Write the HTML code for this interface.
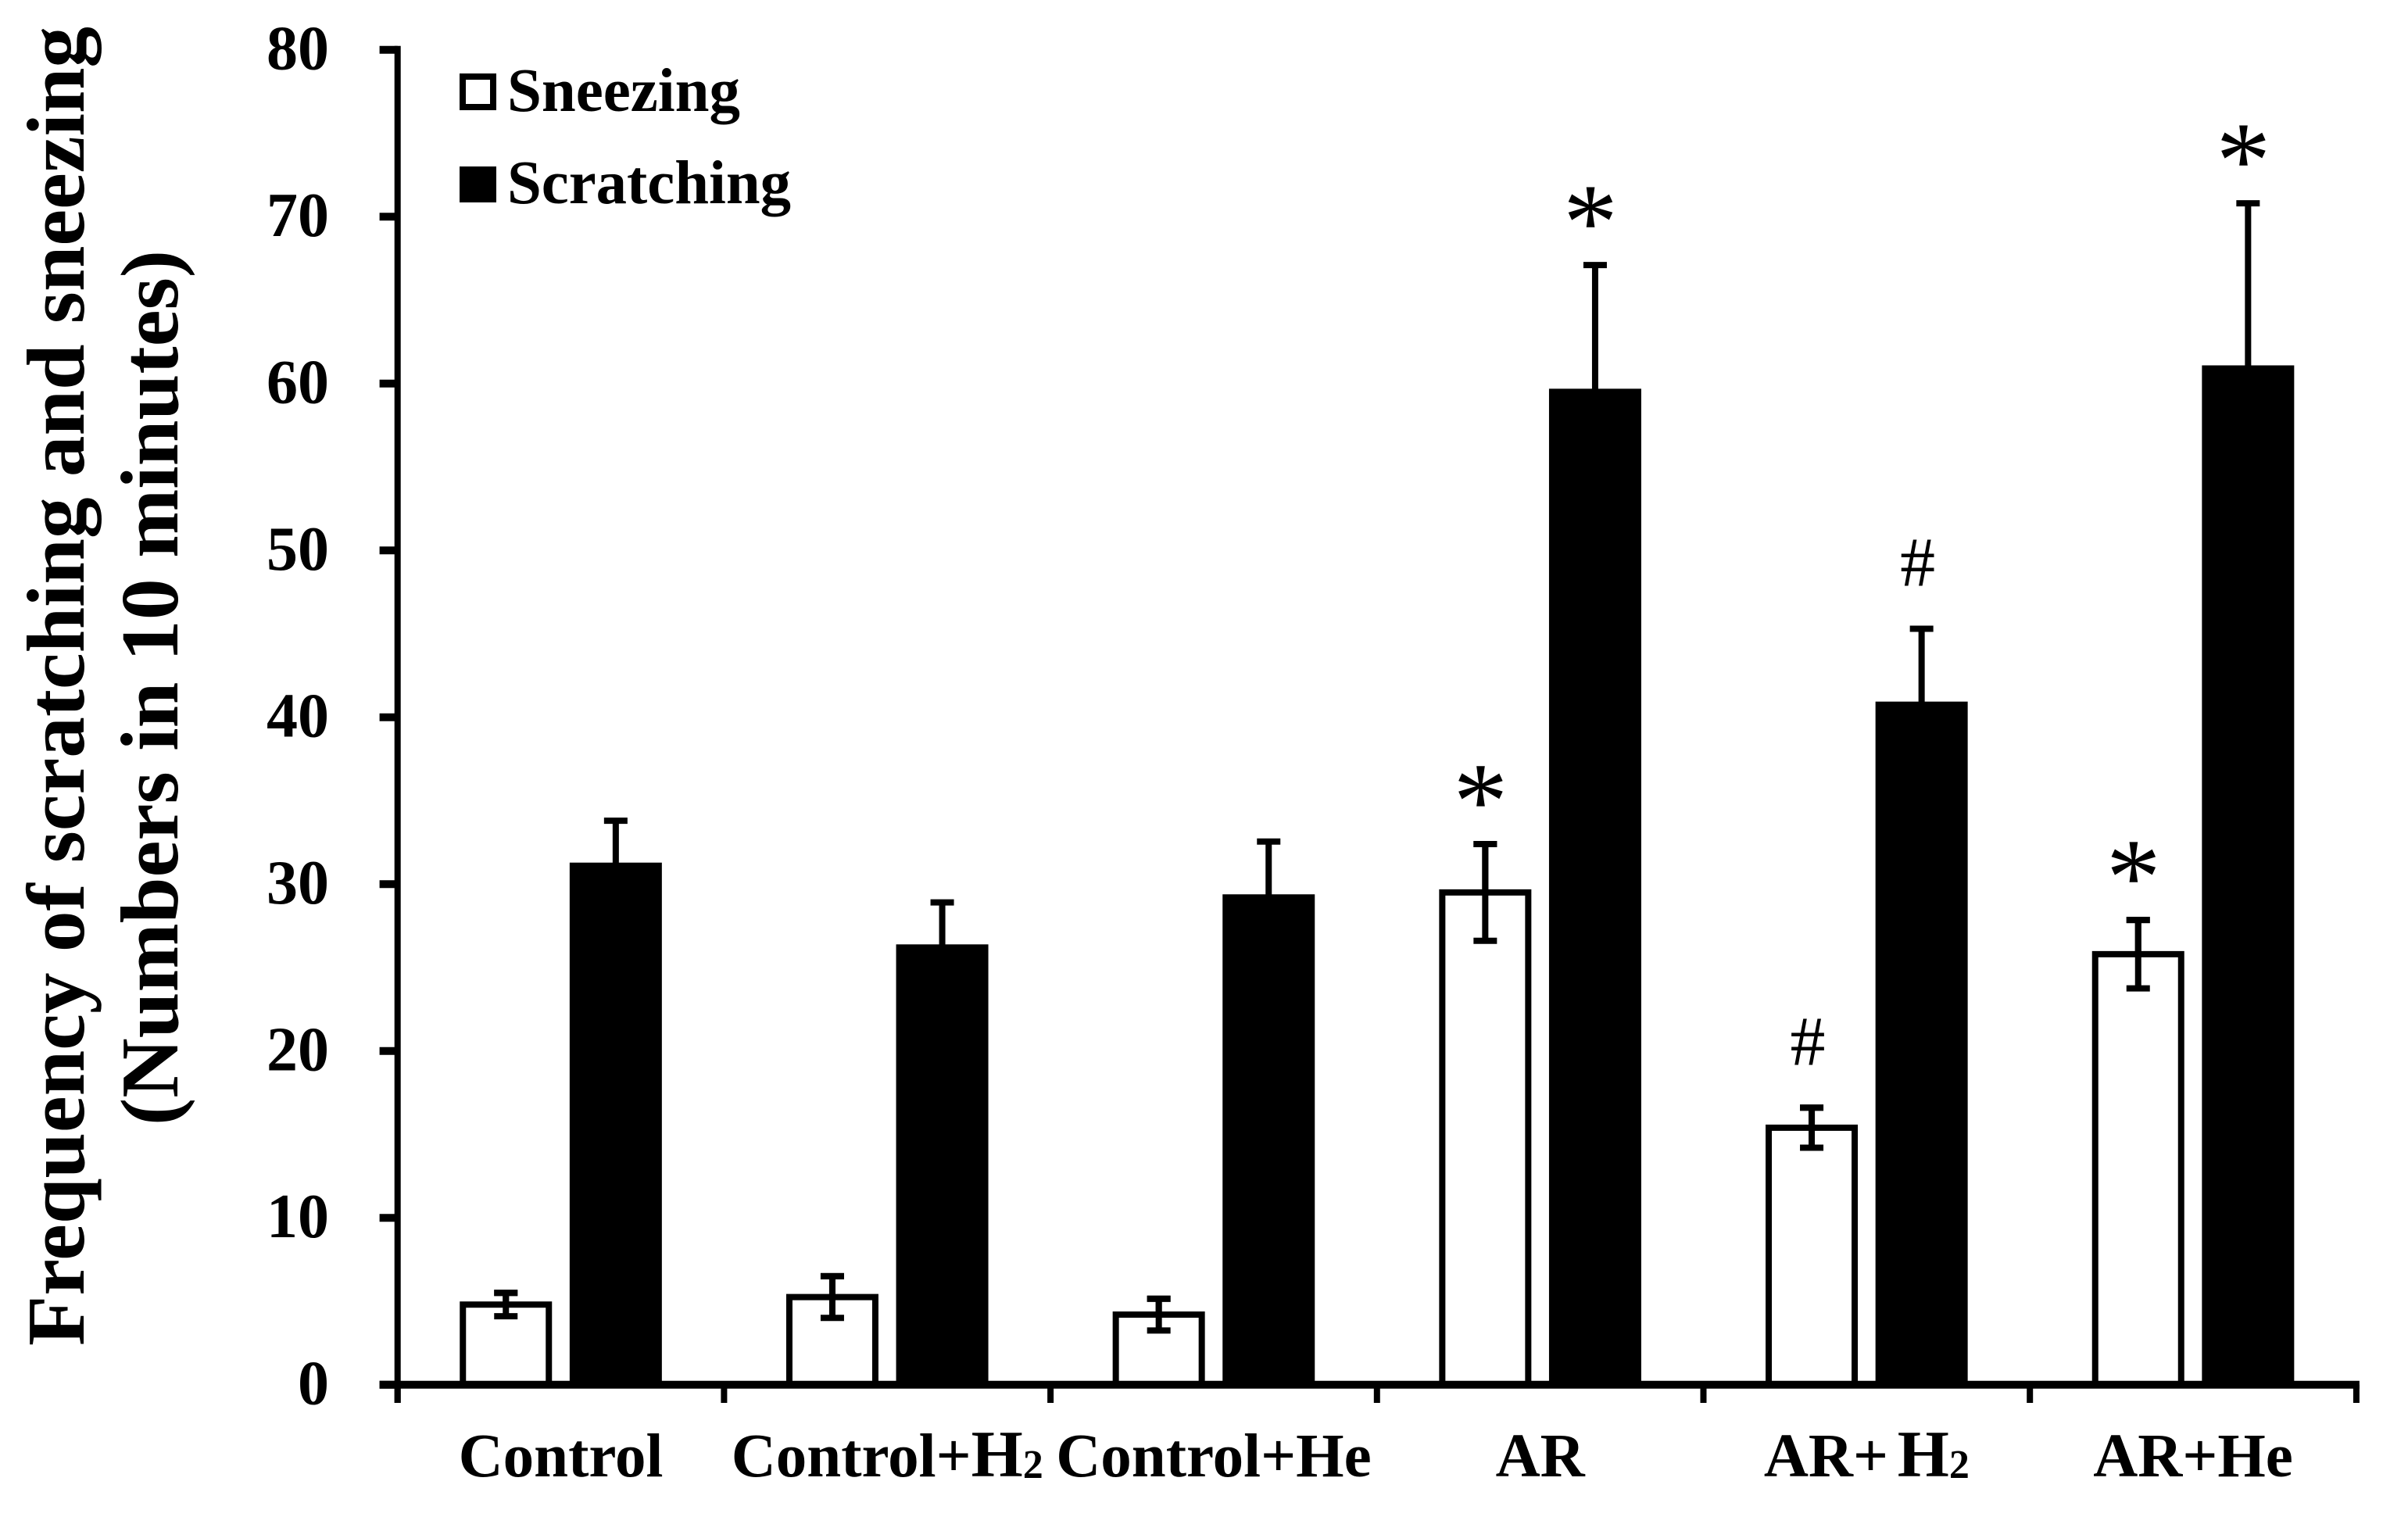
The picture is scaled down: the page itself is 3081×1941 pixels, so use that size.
<!DOCTYPE html>
<html lang="en">
<head>
<meta charset="utf-8">
<title>Frequency of scratching and sneezing</title>
<style>
  html, body { margin: 0; padding: 0; background: #fff; }
  svg { display: block; }
  text { font-family: "Liberation Serif", serif; font-weight: bold; fill: #000; }
  .mark { font-weight: normal; text-anchor: middle; }
</style>
</head>
<body>
<svg id="chart" xmlns="http://www.w3.org/2000/svg" width="3081" height="1941" viewBox="0 0 3081 1941">
  <rect x="0" y="0" width="3081" height="1941" fill="#fff"/>
  <text transform="translate(107,1722) rotate(-90)" font-size="105" textLength="1688" lengthAdjust="spacingAndGlyphs">Frequency of scratching and sneezing</text>
  <text transform="translate(227,1440) rotate(-90)" font-size="105" textLength="1120" lengthAdjust="spacingAndGlyphs">(Numbers in 10 minutes)</text>
  <g>
    <rect x="592" y="98" width="39" height="39" fill="#fff" stroke="#000" stroke-width="8"/>
    <text x="649" y="142" font-size="79" textLength="298" lengthAdjust="spacingAndGlyphs">Sneezing</text>
    <rect x="588" y="213" width="47" height="46" fill="#000"/>
    <text x="649" y="260" font-size="79" textLength="363" lengthAdjust="spacingAndGlyphs">Scratching</text>
  </g>
  <g id="plot"></g>
</svg>
<script>
const categories = ['Control', 'Control+H2', 'Control+He', 'AR', 'AR+ H2', 'AR+He'];
const yTicks = [0, 10, 20, 30, 40, 50, 60, 70, 80];
const sneezingValues = [4.8, 5.25, 4.2, 29.5, 15.4, 25.8];
const sneezingErrors = [0.7, 1.25, 0.95, 2.9, 1.2, 2.05];
const sneezingMarks = ['', '', '', '*', '#', '*'];
const scratchingValues = [31.1, 26.2, 29.2, 59.5, 40.75, 60.9];
const scratchingErrors = [2.7, 2.7, 3.35, 7.6, 4.55, 9.9];
const scratchingMarks = ['', '', '', '*', '#', '*'];

const SVG_NS = 'http://www.w3.org/2000/svg';
const plot = document.getElementById('plot');
const AXIS_X = 508.7, BASE_Y = 1771.7, UNIT_Y = 21.35, GROUP_W = 417.7;
const BAR_OFFSET = 70.3, BAR_W = 110, STROKE = 8, CAP_W = 30;

function yScale(v) { return BASE_Y - v * UNIT_Y; }
function groupX(i) { return AXIS_X + GROUP_W * (i + 0.5); }
function edgeX(i) { return AXIS_X + GROUP_W * i; }

function make(tag, attrs) {
  const el = document.createElementNS(SVG_NS, tag);
  for (const k in attrs) el.setAttribute(k, attrs[k]);
  plot.appendChild(el);
  return el;
}

function drawBar(cx, value, fill, name) {
  const top = yScale(value);
  const bar = make('rect', { x: cx - BAR_W / 2, y: top, width: BAR_W, height: BASE_Y - top, fill: fill, stroke: '#000', 'stroke-width': STROKE });
  
  
}

function drawError(cx, value, err, lower, name) {
  const hi = yScale(value + err);
  const lo = lower ? yScale(value - err) : yScale(value);
  const stem = make('line', { x1: cx, x2: cx, y1: hi, y2: lo, stroke: '#000', 'stroke-width': STROKE });
  
  
  const capTop = make('line', { x1: cx - CAP_W / 2, x2: cx + CAP_W / 2, y1: hi, y2: hi, stroke: '#000', 'stroke-width': STROKE });
  
  
  if (lower) {
    const capLow = make('line', { x1: cx - CAP_W / 2, x2: cx + CAP_W / 2, y1: lo, y2: lo, stroke: '#000', 'stroke-width': STROKE });
    
    
  }
}

function drawMark(cx, topValue, glyph, name) {
  if (!glyph) return;
  const isStar = glyph === '*';
  const centerY = yScale(topValue) - (isStar ? 73 : 86);
  const size = isStar ? 140 : 90;
  const mark = make('text', { x: cx + (isStar ? -6 : -5), y: centerY + (isStar ? 65 : 31), 'font-size': size, class: 'mark' });
  mark.textContent = glyph;
  
  
}

categories.forEach(function (cat, i) {
  const key = cat.toLowerCase().replace(/[^a-z0-9]+/g, '-');
  const sx = groupX(i) - BAR_OFFSET;
  const cx = groupX(i) + BAR_OFFSET;
  drawError(sx, sneezingValues[i], sneezingErrors[i], true, 'error-bar-sneezing-' + key);
  drawBar(sx, sneezingValues[i], '#fff', 'bar-sneezing-' + key);
  drawError(sx, sneezingValues[i], sneezingErrors[i], true, 'error-bar-front-sneezing-' + key);
  drawError(cx, scratchingValues[i], scratchingErrors[i], false, 'error-bar-scratching-' + key);
  drawBar(cx, scratchingValues[i], '#000', 'bar-scratching-' + key);
  drawMark(sx, sneezingValues[i] + sneezingErrors[i], sneezingMarks[i], 'significance-sneezing-' + key);
  drawMark(cx, scratchingValues[i] + scratchingErrors[i], scratchingMarks[i], 'significance-scratching-' + key);

  const label = make('text', { x: groupX(i), y: 1889, 'font-size': 79, 'text-anchor': 'middle', 'word-spacing': '-8' });
  
  
  const parts = cat.match(/^(.*)H2$/);
  if (parts) {
    const main = document.createElementNS(SVG_NS, 'tspan');
    main.textContent = parts[1];
    label.appendChild(main);
    const bigH = document.createElementNS(SVG_NS, 'tspan');
    bigH.setAttribute('font-size', '85');
    bigH.textContent = 'H';
    label.appendChild(bigH);
    const sub = document.createElementNS(SVG_NS, 'tspan');
    sub.setAttribute('font-size', '52');
    sub.setAttribute('dy', '2');
    sub.textContent = '2';
    label.appendChild(sub);
  } else {
    label.textContent = cat;
  }
});

const yAxis = make('line', { x1: AXIS_X, x2: AXIS_X, y1: yScale(80) - 5, y2: 1795, stroke: '#000', 'stroke-width': 8 });



const xAxis = make('line', { x1: 485.6, x2: edgeX(6) + 4, y1: BASE_Y, y2: BASE_Y, stroke: '#000', 'stroke-width': 10 });



yTicks.forEach(function (t) {
  const tick = make('line', { x1: 485.6, x2: AXIS_X, y1: yScale(t), y2: yScale(t), stroke: '#000', 'stroke-width': 10 });
  
  
  const lab = make('text', { x: 421, y: yScale(t) + 25, 'font-size': 80, 'text-anchor': 'end' });
  lab.textContent = String(t);
  
  
});

for (let i = 0; i <= categories.length; i++) {
  const tick = make('line', { x1: edgeX(i), x2: edgeX(i), y1: BASE_Y, y2: 1795, stroke: '#000', 'stroke-width': 8 });
  
  
}
</script>
</body>
</html>
